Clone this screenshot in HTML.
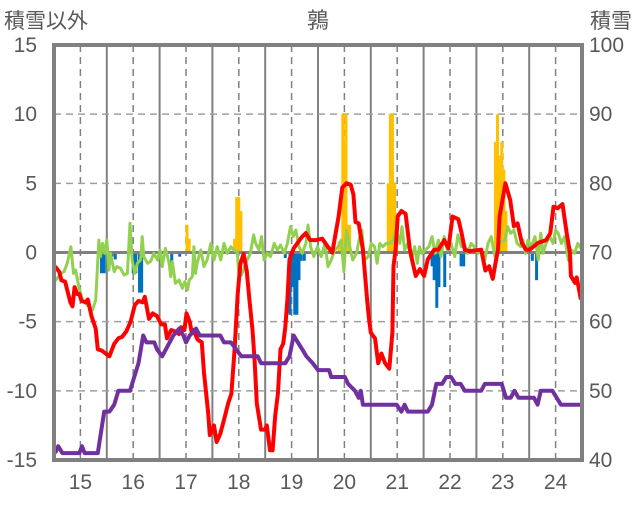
<!DOCTYPE html>
<html><head><meta charset="utf-8"><style>
body{margin:0;background:#fff;}
svg text{font-family:"Liberation Sans","Noto Sans CJK JP",sans-serif;fill:#595959;}
</style></head><body>
<svg id="c" width="636" height="501" xmlns="http://www.w3.org/2000/svg"></svg>
<script>
// ---- data ----
const years=[15,16,17,18,19,20,21,22,23,24];
const leftTicks=[15,10,5,0,-5,-10,-15];
const rightTicks=[100,90,80,70,60,50,40];
const snowX=[14.52,14.58,14.66,14.98,15.03,15.08,15.33,15.45,15.55,15.64,15.72,15.94,16.1,16.19,16.25,16.4,16.45,16.55,16.62,16.76,16.87,16.95,17.0,17.07,17.19,17.26,17.65,17.72,17.85,17.95,18.05,18.1,18.36,18.42,18.88,18.96,19.04,19.12,19.2,19.28,19.4,19.5,19.71,19.75,20.01,20.07,20.2,20.27,20.31,20.35,20.99,21.08,21.14,21.2,21.58,21.66,21.74,21.85,21.93,22.02,22.1,22.2,22.28,22.59,22.66,22.98,23.06,23.15,23.22,23.3,23.59,23.66,23.72,23.94,24.02,24.1,24.48];
const snowV=[41,42,41,41,42,41,41,47,47,48,50,50,54,58,57,57,56,55,56,58,59,58,57,58,59,58,58,57,57,56,55,55,55,54,54,55,58,57,56,55,54,53,53,52,52,51,50,49,50,48,48,47,48,47,47,48,51,51,52,52,51,51,50,50,51,51,49,49,50,49,49,48,50,50,49,48,48];
const redX=[14.52,14.6,14.64,14.71,14.75,14.81,14.85,14.89,14.94,14.98,15.02,15.1,15.14,15.21,15.29,15.33,15.41,15.48,15.55,15.64,15.72,15.79,15.87,15.95,16.03,16.1,16.18,16.22,16.3,16.37,16.45,16.53,16.6,16.64,16.72,16.79,16.87,16.91,16.97,17.01,17.07,17.11,17.14,17.22,17.3,17.34,17.42,17.45,17.53,17.58,17.65,17.72,17.8,17.86,17.92,17.98,18.03,18.09,18.15,18.2,18.26,18.3,18.34,18.42,18.5,18.53,18.59,18.64,18.69,18.74,18.79,18.84,18.88,18.92,18.96,19.04,19.19,19.27,19.35,19.46,19.58,19.69,19.77,19.89,19.96,20.04,20.12,20.17,20.21,20.27,20.35,20.43,20.46,20.5,20.58,20.64,20.7,20.77,20.85,20.91,20.93,20.97,21.01,21.08,21.16,21.24,21.28,21.35,21.43,21.51,21.58,21.7,21.78,21.89,21.97,22.05,22.16,22.22,22.28,22.36,22.59,22.67,22.74,22.81,22.86,22.91,22.94,23.05,23.14,23.21,23.28,23.36,23.44,23.51,23.67,23.82,23.9,23.96,24.04,24.13,24.21,24.27,24.29,24.37,24.4,24.48];
const redV=[-1.0,-1.4,-2.0,-2.1,-2.7,-3.6,-3.9,-2.5,-3.0,-3.0,-3.5,-3.6,-3.4,-4.6,-5.5,-7.0,-7.1,-7.3,-7.5,-6.6,-6.2,-6.1,-5.7,-5.0,-3.8,-3.5,-3.6,-3.2,-4.8,-4.4,-4.6,-5.2,-5.2,-6.2,-5.6,-5.7,-5.9,-5.4,-5.6,-4.4,-5.0,-5.8,-5.6,-6.3,-6.5,-8.7,-11.6,-13.2,-12.5,-13.7,-13.1,-12.1,-10.9,-10.2,-7.0,-3.0,-0.8,-0.1,-1.3,-3.4,-5.6,-7.8,-10.9,-12.8,-12.8,-12.5,-14.3,-14.3,-11.8,-10.2,-7.0,-6.6,-5.4,-3.4,-0.5,0.3,1.1,1.4,0.9,0.9,1.0,0.4,0.0,2.6,4.7,5.0,4.9,4.2,2.2,2.1,0.2,-3.4,-4.6,-5.8,-6.2,-8.0,-7.3,-8.0,-8.4,-5.8,-1.0,0.2,2.6,3.0,2.8,0.2,-0.5,-1.7,-1.2,-1.7,-0.5,0.2,0.2,0.9,0.3,2.6,2.4,1.4,0.2,0.1,0.2,-1.3,-1.0,-1.9,-0.8,0.2,2.6,5.0,3.8,1.9,2.1,0.7,0.2,0.2,0.7,0.9,1.4,3.3,3.2,3.5,1.4,0.0,-1.7,-2.2,-1.8,-3.4];
const greenX=[14.5,14.56,14.63,14.69,14.75,14.82,14.87,14.91,14.97,15.04,15.1,15.16,15.23,15.29,15.35,15.38,15.42,15.46,15.5,15.54,15.57,15.64,15.69,15.76,15.83,15.89,15.94,15.98,16.03,16.08,16.14,16.17,16.2,16.27,16.33,16.39,16.46,16.51,16.55,16.61,16.68,16.71,16.74,16.8,16.87,16.93,16.98,17.03,17.06,17.12,17.15,17.18,17.21,17.28,17.34,17.4,17.47,17.53,17.59,17.66,17.72,17.78,17.85,17.91,17.97,18.0,18.05,18.1,18.16,18.22,18.28,18.32,18.38,18.43,18.48,18.54,18.6,18.67,18.73,18.79,18.86,18.92,18.98,19.03,19.08,19.14,19.2,19.27,19.31,19.36,19.42,19.49,19.56,19.63,19.69,19.75,19.82,19.88,19.94,19.99,20.04,20.1,20.16,20.23,20.29,20.33,20.38,20.45,20.51,20.57,20.62,20.67,20.73,20.79,20.86,20.92,20.98,21.05,21.09,21.14,21.2,21.27,21.33,21.38,21.42,21.47,21.53,21.6,21.66,21.72,21.78,21.83,21.89,21.95,22.02,22.09,22.15,22.22,22.27,22.33,22.4,22.46,22.53,22.59,22.66,22.72,22.78,22.85,22.91,22.97,23.04,23.09,23.15,23.21,23.27,23.34,23.38,23.43,23.48,23.54,23.61,23.67,23.72,23.76,23.82,23.89,23.95,24.0,24.05,24.11,24.17,24.24,24.3,24.36,24.42,24.48];
const greenV=[-2.11,-1.87,-1.51,-1.39,-0.78,0.42,-1.51,-1.27,-2.47,-3.43,-3.68,-3.92,-4.16,-3.43,0.9,-0.3,0.66,-0.06,0.9,-1.27,-0.06,-1.39,-1.02,-1.14,-1.63,-1.51,2.11,-0.54,-1.51,-0.78,-0.54,1.15,-0.3,-0.78,-0.66,-0.06,-0.54,0.18,-1.02,0.3,-0.78,-1.75,-0.66,-2.23,-1.99,-2.59,-2.11,-2.71,-1.99,-1.75,0.42,-1.51,-0.78,0.18,-1.02,-0.54,0.66,-0.54,0.42,-0.54,0.66,-0.06,0.42,0.18,0.06,-1.51,-1.63,-1.14,-0.54,-0.06,1.27,0.66,0.18,1.15,-0.54,-0.06,-0.3,0.66,0.18,0.54,-0.06,0.66,1.87,1.15,1.63,0.42,-0.06,0.66,1.99,0.42,-0.3,0.42,-0.3,0.66,-1.02,-0.54,0.18,0.42,0.9,-1.39,1.63,0.42,-0.54,-0.06,1.15,1.63,-0.54,-0.3,0.66,0.42,-0.78,0.66,0.42,0.66,0.66,0.9,1.63,0.66,1.87,0.18,0.66,-0.54,0.42,-0.78,0.42,-0.06,0.18,0.42,1.15,-0.06,0.9,-0.3,1.15,0.18,0.66,-0.3,1.27,0.42,0.66,-0.06,0.66,0.42,-0.06,0.18,-0.54,0.66,1.15,-0.3,0.42,0.78,0.9,1.87,1.39,1.63,0.66,0.42,0.9,-0.06,0.9,0.42,1.15,-0.54,1.39,-0.06,0.66,1.15,0.66,1.63,1.39,0.66,1.15,-0.54,0.18,-0.06,0.66,0.3];
const posX=[17.02,17.06,17.92,17.96,18.0,18.04,19.9,19.97,20.0,20.03,20.06,20.1,20.83,20.87,20.91,20.95,20.99,22.86,22.9,22.94,22.98,23.02,23.06,24.25];
const posV=[2,1,1,4,4,3,0.8,10,8,10,2,2,5,10,10,5,2,8,10,7,8,6,3,0.5];
const negX=[15.4,15.45,15.6,15.66,16.0,16.05,16.12,16.16,16.73,16.88,17.15,18.88,18.97,19.02,19.06,19.1,19.14,19.18,19.24,21.66,21.7,21.75,21.79,21.9,22.21,22.26,23.56,23.64];
const negV=[-1.5,-1.5,-0.3,-0.5,-1.5,-1.5,-2.9,-2.9,-0.9,-0.3,-0.4,-0.4,-4.5,-2.5,-4.5,-4.5,-2.0,-0.6,-0.6,-1.0,-2.0,-4.0,-2.5,-2.5,-1.0,-1.0,-0.6,-2.0];

// ---- scales ----
const L=54,R=582,T=45,B=460;
const X=y=>L+(y-14.5)*(R-L)/10;
const Y=v=>252.5-v*(B-T)/30;
const YR=v=>Y((v-70)/2);
const svg=document.getElementById('c');
const NS='http://www.w3.org/2000/svg';
function mk(tag,attrs,name,parent){const e=document.createElementNS(NS,tag);for(const k in attrs)e.setAttribute(k,attrs[k]);


(parent||svg).appendChild(e);return e;}
// grid
years.forEach(yr=>{
 mk('line',{x1:X(yr),x2:X(yr),y1:T,y2:B,stroke:'#808080','stroke-width':1.5,'stroke-dasharray':'7,5'},'year-gridline');
 mk('line',{x1:X(yr+0.5),x2:X(yr+0.5),y1:T,y2:B,stroke:'#808080','stroke-width':2},'year-boundary-line');
 const t=mk('text',{x:X(yr),y:489,'text-anchor':'middle','font-size':21},'x-tick-label');t.textContent=yr;
});
[10,5,-5,-10].forEach(v=>mk('line',{x1:L,x2:R,y1:Y(v),y2:Y(v),stroke:'#a0a0a0','stroke-width':1.5,'stroke-dasharray':'7,5'},'h-gridline'));
leftTicks.forEach(v=>{const t=mk('text',{x:37,y:Y(v)+7,'text-anchor':'end','font-size':21},'left-tick-label');t.textContent=v;});
rightTicks.forEach(v=>{const t=mk('text',{x:589,y:YR(v)+7,'text-anchor':'start','font-size':21},'right-tick-label');t.textContent=v;});
// bars
posX.forEach((x,i)=>mk('rect',{x:X(x)-1.5,y:Y(posV[i]),width:3,height:Y(0)-Y(posV[i]),fill:'#ffc000'},'bar-positive'));
negX.forEach((x,i)=>mk('rect',{x:X(x)-1.5,y:Y(0),width:3,height:Y(negV[i])-Y(0),fill:'#0070c0'},'bar-negative'));
mk('line',{x1:L,x2:R,y1:Y(0),y2:Y(0),stroke:'#808080','stroke-width':3},'zero-line');
// lines
const pts=(xs,vs,f)=>xs.map((x,i)=>X(x).toFixed(1)+','+f(vs[i]).toFixed(1)).join(' ');
mk('polyline',{points:pts(greenX,greenV,Y),fill:'none',stroke:'#92d050','stroke-width':3,'stroke-linejoin':'round'},'green-series-line');
mk('polyline',{points:pts(redX,redV,Y),fill:'none',stroke:'#ff0000','stroke-width':4,'stroke-linejoin':'round'},'red-series-line');
mk('polyline',{points:pts(snowX,snowV,YR),fill:'none',stroke:'#7030a0','stroke-width':4,'stroke-linejoin':'round'},'snow-depth-line');
mk('rect',{x:L,y:T,width:R-L,height:B-T,fill:'none',stroke:'#808080','stroke-width':4},'plot-frame');
let t=mk('text',{x:318,y:28,'text-anchor':'middle','font-size':22},'chart-title');t.textContent='鶉';
t=mk('text',{x:4,y:28,'font-size':21},'left-axis-title');t.textContent='積雪以外';
t=mk('text',{x:632,y:28,'text-anchor':'end','font-size':21},'right-axis-title');t.textContent='積雪';
</script>
</body></html>
